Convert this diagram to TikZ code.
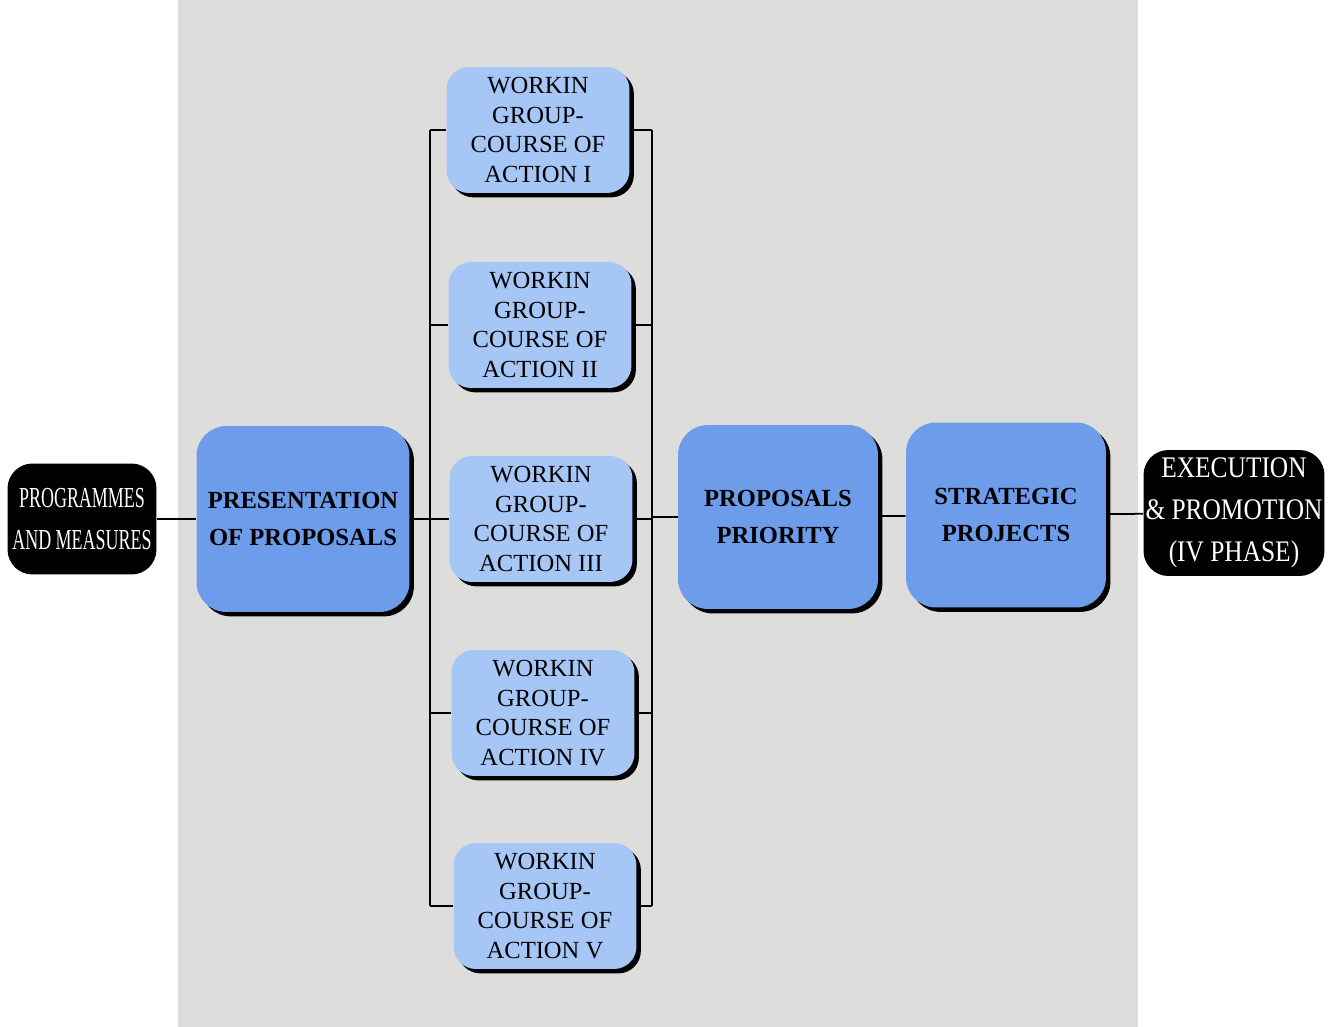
\documentclass[tikz,border=0pt]{standalone}
\usepackage{fontspec}
\setmainfont{Liberation Serif}
\newfontfamily\narrowserif[FakeStretch=0.62]{Liberation Serif}
\newfontfamily\execserif[FakeStretch=0.85]{Liberation Serif}
\usetikzlibrary{shadows}
\definecolor{panelgray}{RGB}{221,221,219}
\definecolor{stepblue}{RGB}{108,156,234}
\definecolor{groupblue}{RGB}{166,198,246}

\tikzset{
    blackbox/.style = {fill=black, text=white, rounded corners=0.5cm, align=center, inner sep=0pt},
    bigbox/.style = {fill=stepblue, rounded corners=0.6cm, align=center, inner sep=0pt,
        font=\bfseries\fontsize{14}{21.5}\selectfont,
        general shadow={fill=black, shadow xshift=2.5pt, shadow yshift=-2.5pt}},
    groupbox/.style = {fill=groupblue, rounded corners=0.45cm, align=center, inner sep=0pt,
        minimum width=3.66cm, minimum height=2.52cm,
        font=\fontsize{14}{17}\selectfont,
        general shadow={fill=black, shadow xshift=2.5pt, shadow yshift=-2.5pt}},
    link/.style = {line width=1pt}
}

\begin{document}
\begin{tikzpicture}[x=0.02cm, y=-0.02cm]

    % Background:
    \fill[white] (0,0) rectangle (1342,1027);
    \fill[panelgray] (178,0) rectangle (1138,1027);
    \useasboundingbox (0,0) rectangle (1342,1027);

    % Boxes:
    \node[blackbox, minimum width=2.98cm, minimum height=2.22cm,
        font=\narrowserif\fontsize{16.5}{24}\selectfont] (prog) at (82,519) {PROGRAMMES\\AND MEASURES};
    \node[bigbox, minimum width=4.26cm, minimum height=3.72cm] (pres) at (303,519) {PRESENTATION\\OF PROPOSALS};

    \node[groupbox] (wg1) at (538,130) {WORKIN\\GROUP-\\COURSE OF\\ACTION I};
    \node[groupbox] (wg2) at (540,325) {WORKIN\\GROUP-\\COURSE OF\\ACTION II};
    \node[groupbox] (wg3) at (541,519) {WORKIN\\GROUP-\\COURSE OF\\ACTION III};
    \node[groupbox] (wg4) at (543,713) {WORKIN\\GROUP-\\COURSE OF\\ACTION IV};
    \node[groupbox] (wg5) at (545,906) {WORKIN\\GROUP-\\COURSE OF\\ACTION V};

    \node[bigbox, minimum width=4cm, minimum height=3.68cm] (prio) at (778,517) {PROPOSALS\\PRIORITY};
    \node[bigbox, minimum width=4cm, minimum height=3.7cm] (strat) at (1006,515) {STRATEGIC\\PROJECTS};
    \node[blackbox, minimum width=3.62cm, minimum height=2.52cm,
        font=\execserif\fontsize{17}{24}\selectfont] (exec) at (1234,513) {EXECUTION\\\& PROMOTION\\(IV PHASE)};

    % Buses:
    \coordinate (lbus) at (430,519);
    \coordinate (rbus) at (652,517);
    \draw[link] (wg1.west -| lbus) -- (wg5.west -| lbus);
    \draw[link] (wg1.east -| rbus) -- (wg5.east -| rbus);
    \foreach \i in {1,...,5} {
        \draw[link] (wg\i.west -| lbus) -- (wg\i.west);
        \draw[link] (wg\i.east) -- (wg\i.east -| rbus);
    }

    % Links:
    \draw[link] (prog) -- (pres);
    \draw[link] (pres.east) -- (lbus);
    \draw[link] (rbus) -- (prio.west);
    \draw[link] (prio) -- (strat);
    \draw[link] (strat) -- (exec);
\end{tikzpicture}
\end{document}
